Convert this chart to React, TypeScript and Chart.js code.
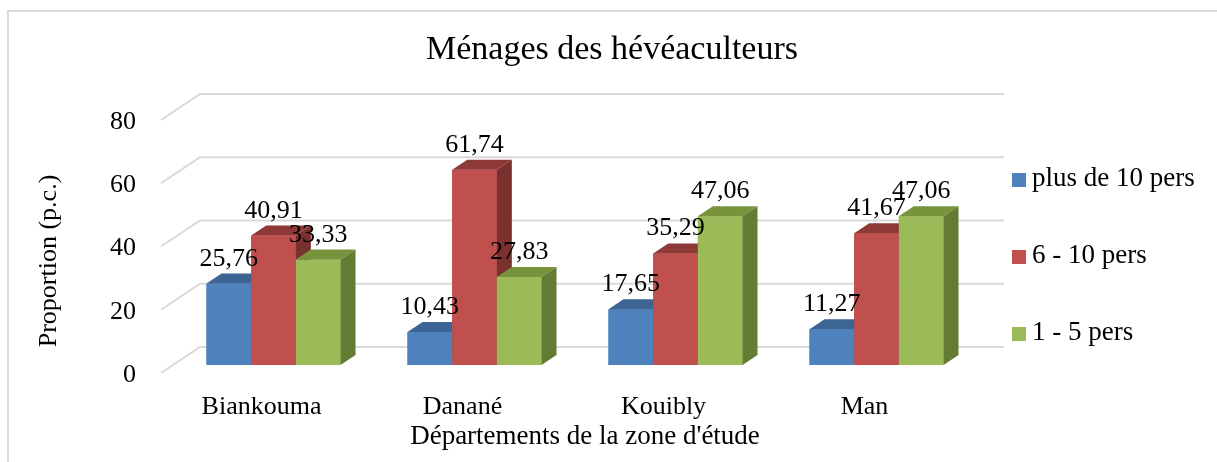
import React, { useEffect, useRef } from "react";
import { Chart, registerables } from "chart.js";

Chart.register(...registerables);

const categories = ["Biankouma", "Danané", "Kouibly", "Man"];
const seriesNames = ["plus de 10 pers", "6 - 10 pers", "1 - 5 pers"];
const plus10 = [25.76, 10.43, 17.65, 11.27];
const six10 = [40.91, 61.74, 35.29, 41.67];
const one5 = [33.33, 27.83, 47.06, 47.06];
const yTickValues = [0, 20, 40, 60, 80];
const chartTitle = "Ménages des hévéaculteurs";
const xTitle = "Départements de la zone d'étude";
const yTitle = "Proportion (p.c.)";

const frontColors = ["#4F81BD", "#C0504D", "#9BBB59"];
const topColors = ["#3C6594", "#8C3937", "#77933C"];
const sideColors = ["#335580", "#7A302E", "#647B33"];

const FONT = "'Liberation Serif', 'Times New Roman', serif";
const FRONT = { dx: -12, dy: 8 };
const BACK = { dx: 27, dy: -18 };
const BAR_D = { dx: 15, dy: -10 };

const fake3d = {
  id: "fake3d",
  beforeDraw(chart: any) {
    const ctx = chart.ctx;
    ctx.save();
    ctx.strokeStyle = "#D9D9D9";
    ctx.lineWidth = 2;
    ctx.beginPath();
    ctx.moveTo(8, chart.height + 2);
    ctx.lineTo(8, 11);
    ctx.lineTo(chart.width + 2, 11);
    ctx.stroke();
    ctx.restore();
  },
  beforeDatasetsDraw(chart: any) {
    const { ctx, chartArea, scales } = chart;
    const y = scales.y;
    ctx.save();
    ctx.strokeStyle = "#D9D9D9";
    ctx.lineWidth = 2;
    y.ticks.forEach((t: any) => {
      const py = y.getPixelForValue(t.value);
      ctx.beginPath();
      ctx.moveTo(chartArea.left + FRONT.dx, py + FRONT.dy);
      ctx.lineTo(chartArea.left + BACK.dx, py + BACK.dy);
      ctx.lineTo(chartArea.right + BACK.dx, py + BACK.dy);
      ctx.stroke();
    });
    ctx.restore();
  },
  afterDatasetsDraw(chart: any) {
    const ctx = chart.ctx;
    ctx.save();
    chart.data.datasets.forEach((_ds: any, i: number) => {
      const meta = chart.getDatasetMeta(i);
      meta.data.forEach((bar: any) => {
        bar.draw(ctx);
        const { x, y, base, width } = bar.getProps(["x", "y", "base", "width"], true);
        const l = x - width / 2;
        const r = x + width / 2;
        ctx.fillStyle = topColors[i];
        ctx.beginPath();
        ctx.moveTo(l, y);
        ctx.lineTo(l + BAR_D.dx, y + BAR_D.dy);
        ctx.lineTo(r + BAR_D.dx, y + BAR_D.dy);
        ctx.lineTo(r, y);
        ctx.closePath();
        ctx.fill();
        ctx.fillStyle = sideColors[i];
        ctx.beginPath();
        ctx.moveTo(r, y);
        ctx.lineTo(r + BAR_D.dx, y + BAR_D.dy);
        ctx.lineTo(r + BAR_D.dx, base + BAR_D.dy);
        ctx.lineTo(r, base);
        ctx.closePath();
        ctx.fill();
      });
    });
    ctx.restore();
  },
  afterDraw(chart: any) {
    const ctx = chart.ctx;
    ctx.save();
    ctx.fillStyle = "#000";
    // data labels
    ctx.font = `26px ${FONT}`;
    ctx.textAlign = "center";
    ctx.textBaseline = "alphabetic";
    chart.data.datasets.forEach((ds: any, di: number) => {
      const meta = chart.getDatasetMeta(di);
      meta.data.forEach((bar: any, j: number) => {
        const { x, y } = bar.getProps(["x", "y"], true);
        const v = ds.data[j] as number;
        ctx.fillText(v.toFixed(2).replace(".", ","), x, y - 18);
      });
    });
    // title
    ctx.font = `34px ${FONT}`;
    ctx.fillText(chartTitle, 612, 59);
    // x title
    ctx.font = `27px ${FONT}`;
    ctx.fillText(xTitle, 585, 444);
    // y title
    ctx.save();
    ctx.translate(56, 261);
    ctx.rotate(-Math.PI / 2);
    ctx.font = `26px ${FONT}`;
    ctx.fillText(yTitle, 0, 0);
    ctx.restore();
    // legend
    ctx.textAlign = "left";
    ctx.font = `27px ${FONT}`;
    const rows = [186, 263, 340];
    seriesNames.forEach((name, k) => {
      ctx.fillStyle = frontColors[k];
      ctx.fillRect(1012, rows[k] - 13, 14, 14);
      ctx.fillStyle = "#000";
      ctx.fillText(name, 1032, rows[k]);
    });
    ctx.restore();
  },
};

export default function App() {
  const ref = useRef<HTMLCanvasElement | null>(null);
  useEffect(() => {
    if (!ref.current) return;
    const chart = new Chart(ref.current, {
      type: "bar",
      data: {
        labels: categories,
        datasets: [
          { label: seriesNames[0], data: plus10, backgroundColor: frontColors[0], borderWidth: 0 },
          { label: seriesNames[1], data: six10, backgroundColor: frontColors[1], borderWidth: 0 },
          { label: seriesNames[2], data: one5, backgroundColor: frontColors[2], borderWidth: 0 },
        ],
      },
      options: {
        responsive: false,
        animation: false,
        devicePixelRatio: 1,
        layout: { padding: { top: 112, right: 240, bottom: 0, left: 0 } },
        datasets: { bar: { categoryPercentage: 134 / 201, barPercentage: 1 } },
        plugins: {
          legend: { display: false },
          title: { display: false },
          tooltip: { enabled: false },
        },
        scales: {
          x: {
            type: "category",
            grid: { display: false, drawTicks: false },
            border: { display: false },
            ticks: {
              color: "#000",
              font: { family: FONT, size: 26 },
              padding: 27,
              labelOffset: -12,
              maxRotation: 0,
            },
            afterFit(scale: any) {
              scale.height = 97;
            },
          },
          y: {
            min: 0,
            max: 80,
            afterBuildTicks(scale: any) {
              scale.ticks = yTickValues.map((v) => ({ value: v }));
            },
            grid: { display: false, drawTicks: false },
            border: { display: false },
            ticks: {
              color: "#000",
              font: { family: FONT, size: 26 },
              padding: 37,
              labelOffset: 10,
            },
            afterFit(scale: any) {
              scale.width = 173;
            },
          },
        },
      },
      plugins: [fake3d],
    });
    return () => chart.destroy();
  }, []);
  return (
    <div style={{ position: "absolute", left: 0, top: 0, width: 1217, height: 462, background: "#fff" }}>
      <canvas ref={ref} width={1217} height={462} style={{ display: "block" }} />
    </div>
  );
}
